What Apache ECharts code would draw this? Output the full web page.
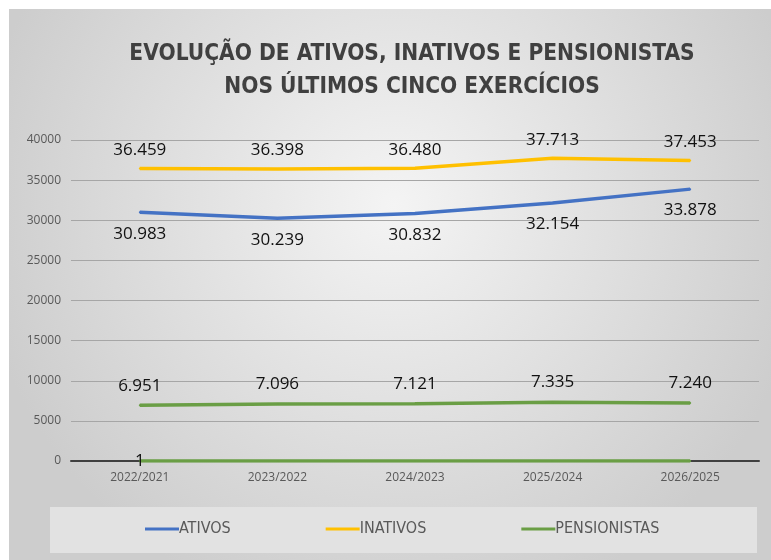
<!DOCTYPE html>
<html>
<head>
<meta charset="utf-8">
<script src="https://cdn.jsdelivr.net/npm/echarts@6/dist/echarts.min.js"></script>
<style>
  html, body { margin: 0; padding: 0; background: #fff; }
  #chart { width: 771px; height: 560px; }
</style>
</head>
<body>
<div id="chart"></div>
<script>
// dados do gráfico
const categorias = ["2022/2021", "2023/2022", "2024/2023", "2025/2024", "2026/2025"];
const ativos = [30983, 30239, 30832, 32154, 33878];
const inativos = [36459, 36398, 36480, 37713, 37453];
const pensionistas = [6951, 7096, 7121, 7335, 7240];
const outros = [1, 0, 0, 0, 0];

// 36459 -> "36.459"
function fmt(v) {
  return String(v).replace(/\B(?=(\d{3})+(?!\d))/g, ".");
}

const chart = echarts.init(document.getElementById("chart"));

const labelBase = {
  show: true,
  fontFamily: "Open Sans",
  fontSize: 17,
  color: "#111",
  formatter: p => fmt(p.value)
};

function serie(name, data, color, pos, dist) {
  return {
    name: name,
    type: "line",
    data: data,
    symbol: "circle",
    symbolSize: 2,
    showSymbol: true,
    color: color,
    lineStyle: { width: 3.5, color: color },
    label: Object.assign({}, labelBase, { position: pos, distance: dist })
  };
}

const option = {
  animation: false,
  backgroundColor: "#fff",
  graphic: [
    {
      type: "rect",
      z: -10,
      shape: { x: 9, y: 9, width: 770, height: 560 },
      style: {
        fill: new echarts.graphic.RadialGradient(0.5, 0.35, 0.75, [
          { offset: 0, color: "#f4f4f4" },
          { offset: 1, color: "#cdcdcd" }
        ])
      }
    },
    {
      type: "rect",
      z: -5,
      shape: { x: 50, y: 507, width: 707, height: 46 },
      style: { fill: "#e2e2e2" }
    }
  ],
  title: {
    text: "EVOLUÇÃO DE ATIVOS, INATIVOS E PENSIONISTAS\nNOS ÚLTIMOS CINCO EXERCÍCIOS",
    left: 407,
    top: 33,
    textAlign: "center",
    textStyle: {
      fontFamily: "DejaVu Sans Condensed",
      fontWeight: "bold",
      fontSize: 22.5,
      lineHeight: 33,
      color: "#404040"
    }
  },
  legend: {
    left: 140,
    top: 516,
    itemGap: 95,
    itemWidth: 34,
    itemHeight: 3,
    icon: "rect",
    data: ["ATIVOS", "INATIVOS", "PENSIONISTAS"],
    textStyle: {
      fontFamily: "DejaVu Sans Condensed",
      fontSize: 16,
      color: "#595959",
      padding: [0, 0, 0, -5]
    }
  },
  grid: {
    left: 71,
    right: 12,
    top: 140,
    height: 321
  },
  xAxis: {
    type: "category",
    data: categorias,
    boundaryGap: true,
    axisTick: { show: false },
    axisLine: { lineStyle: { color: "#404040", width: 2 } },
    axisLabel: {
      fontFamily: "Open Sans",
      fontSize: 12,
      color: "#595959",
      margin: 11
    }
  },
  yAxis: {
    type: "value",
    min: 0,
    max: 40000,
    interval: 5000,
    axisLine: { show: false },
    axisTick: { show: false },
    axisLabel: {
      fontFamily: "Open Sans",
      fontSize: 12,
      color: "#595959",
      margin: 10,
      formatter: v => String(v)
    },
    splitLine: { lineStyle: { color: "#a6a6a6", width: 1 } }
  },
  series: [
    serie("ATIVOS", ativos, "#4472c4", "bottom", 12),
    serie("INATIVOS", inativos, "#ffc000", "top", 9),
    serie("PENSIONISTAS", pensionistas, "#6a9e45", "top", 10),
    Object.assign(serie("outros", outros, "#6a9e45", "inside", 0), {
      z: 3,
      label: Object.assign({}, labelBase, {
        position: "inside",
        formatter: p => (p.value ? fmt(p.value) : "")
      })
    })
  ]
};

chart.setOption(option);
</script>
</body>
</html>
